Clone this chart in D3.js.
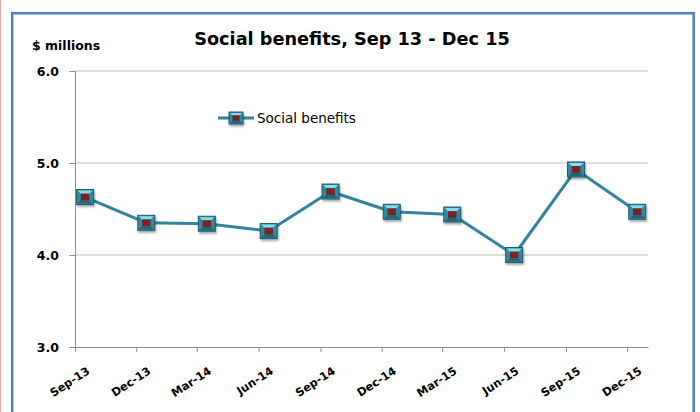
<!DOCTYPE html>
<html>
<head>
<meta charset="utf-8">
<script src="https://cdn.jsdelivr.net/npm/d3@7"></script>
<style>
  body { margin: 0; background: #fff; }
  svg { display: block; font-family: "DejaVu Sans", sans-serif; }
</style>
</head>
<body>
<div id="chart"></div>
<script>

// quarter months shown on the axis
var months = ["2013-09", "2013-12", "2014-03", "2014-06", "2014-09",
              "2014-12", "2015-03", "2015-06", "2015-09", "2015-12"];
// social benefits, $ millions
var values = [4.63, 4.35, 4.34, 4.26, 4.69, 4.47, 4.44, 4.00, 4.93, 4.47];
var yTicks = [3.0, 4.0, 5.0, 6.0];
var seriesName = "Social benefits";
var chartTitle = "Social benefits, Sep 13 - Dec 15";

var W = 700, H = 412;
var margin = {top: 71, right: 52, bottom: 65, left: 75},
    width = W - margin.left - margin.right,
    height = H - margin.top - margin.bottom;

var parseMonth = d3.timeParse("%Y-%m");
var fmt = d3.timeFormat("%b-%y");
var dates = months.map(parseMonth);

var data = [];
for (var i = 0; i < dates.length; i++) {
    data.push({date: dates[i], value: values[i]});
}

var svg = d3.select("#chart").append("svg")
    .attr("width", W)
    .attr("height", H);

var defs = svg.append("defs");
var shadow = defs.append("filter").attr("id", "shadow")
    .attr("x", "-50%").attr("y", "-50%").attr("width", "200%").attr("height", "200%");
shadow.append("feDropShadow")
    .attr("dx", 1).attr("dy", 2).attr("stdDeviation", 1.3)
    .attr("flood-color", "#000").attr("flood-opacity", 0.35);

// outer frame
svg.append("line")
    .attr("x1", 0.5).attr("x2", 0.5).attr("y1", 0).attr("y2", H)
    .attr("stroke", "#e3a9ae").attr("stroke-width", 1);
svg.append("rect")
    .attr("x", 12.2).attr("y", 13.2)
    .attr("width", 681.5).attr("height", 420)
    .attr("fill", "#fff")
    .attr("stroke", "#4f81bd").attr("stroke-width", 2.5);

svg.append("text")
    .attr("x", 352).attr("y", 45)
    .attr("text-anchor", "middle")
    .style("font-size", "17.7px").style("font-weight", "bold")
    .text(chartTitle);

svg.append("text")
    .attr("x", 32).attr("y", 50)
    .style("font-size", "12.5px").style("font-weight", "bold")
    .text("$ millions");

var g = svg.append("g")
    .attr("transform", "translate(" + margin.left + "," + margin.top + ")");

var x = d3.scaleTime()
    .domain([dates[0], d3.timeMonth.offset(dates[dates.length - 1], 1)])
    .range([0, width]);

var y = d3.scaleLinear()
    .domain([3, 6])
    .range([height, 0]);

// gridlines
g.selectAll(".grid").data(yTicks.slice(1)).enter().append("line")
    .attr("class", "grid")
    .attr("x1", 0).attr("x2", width)
    .attr("y1", function(d) { return y(d); })
    .attr("y2", function(d) { return y(d); })
    .attr("stroke", "#bdbdbd").attr("stroke-width", 1);

var yAxis = g.append("g")
    .call(d3.axisLeft(y).tickValues(yTicks).tickSize(6).tickPadding(10)
        .tickFormat(d3.format(".1f")));
yAxis.select(".domain").attr("stroke", "#8c8c8c");
yAxis.selectAll(".tick line").attr("stroke", "#8c8c8c");
yAxis.selectAll("text")
    .style("font-size", "12.5px").style("font-weight", "bold")
    .style("font-family", "'DejaVu Sans', sans-serif").attr("fill", "#000");

var xAxis = g.append("g")
    .attr("transform", "translate(0," + height + ")")
    .call(d3.axisBottom(x).tickValues(dates).tickSize(5).tickSizeOuter(0)
        .tickFormat(fmt));
xAxis.select(".domain").attr("stroke", "#8c8c8c");
xAxis.selectAll(".tick line").attr("stroke", "#8c8c8c");
xAxis.selectAll("text")
    .style("font-size", "11.3px").style("font-weight", "bold")
    .style("font-family", "'DejaVu Sans', sans-serif").attr("fill", "#000")
    .attr("text-anchor", "end")
    .attr("y", 0).attr("dy", 0)
    .attr("transform", "translate(15,26) rotate(-33)");

// points sit mid-month
function px(d) { return x(d3.timeDay.offset(d.date, 15)); }

var line = d3.line()
    .x(px)
    .y(function(d) { return y(d.value); });

g.append("path")
    .datum(data)
    .attr("fill", "none")
    .attr("stroke", "#31849b")
    .attr("stroke-width", 3)
    .attr("stroke-linejoin", "round")
    .attr("d", line);

function marker(sel, w, h2) {
    var h = w / 2, v = h2 / 2;
    sel.append("rect")
        .attr("x", -h).attr("y", -v).attr("width", w).attr("height", h2)
        .attr("fill", "#338aa0").attr("stroke", "#1d5a6a").attr("stroke-width", 1)
        .attr("filter", "url(#shadow)");
    sel.append("path")
        .attr("d", "M" + (-h + 1) + "," + (-v + 1) + "L" + (h - 1) + "," + (-v + 1) +
            "L" + (h * 0.5) + "," + (-v * 0.45) + "L" + (-h * 0.5) + "," + (-v * 0.45) + "Z")
        .attr("fill", "#84dcf2");
    sel.append("path")
        .attr("d", "M" + (-h + 1) + "," + (v - 1) + "L" + (h - 1) + "," + (v - 1) +
            "L" + (h * 0.5) + "," + (v * 0.45) + "L" + (-h * 0.5) + "," + (v * 0.45) + "Z")
        .attr("fill", "#23687a");
    sel.append("rect")
        .attr("x", -h * 0.5).attr("y", -v * 0.45).attr("width", h).attr("height", v * 0.9)
        .attr("fill", "#7a2326");
}

g.selectAll(".pt").data(data).enter().append("g")
    .attr("class", "pt")
    .attr("transform", function(d) { return "translate(" + px(d) + "," + y(d.value) + ")"; })
    .each(function() { marker(d3.select(this), 17, 15); });

// legend
var lg = svg.append("g").attr("transform", "translate(218,118)");
lg.append("line")
    .attr("x1", 0).attr("x2", 36).attr("y1", 0).attr("y2", 0)
    .attr("stroke", "#31849b").attr("stroke-width", 3);
lg.append("g").attr("transform", "translate(18,0)")
    .call(function(s) { marker(s, 14, 12); });
lg.append("text")
    .attr("x", 39).attr("y", 5)
    .style("font-size", "13.5px")
    .text(seriesName);

</script>
</body>
</html>
